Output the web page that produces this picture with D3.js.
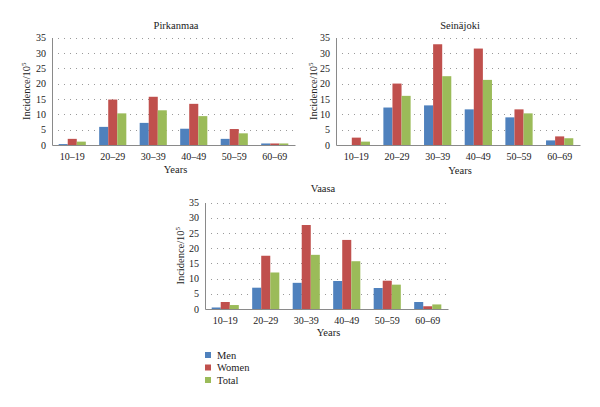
<!DOCTYPE html>
<html><head><meta charset="utf-8">
<script src="https://cdn.jsdelivr.net/npm/d3@7"></script>
<style>
body{margin:0;background:#fff;}
text{font-family:"Liberation Serif","DejaVu Serif",serif;fill:#222;}
</style></head>
<body><svg id="c" width="600" height="407"></svg>
<script>
const ageGroups = ["10–19","20–29","30–39","40–49","50–59","60–69"];
const seriesNames = ["Men","Women","Total"];
const yTicks = [0,5,10,15,20,25,30,35];

const pirkanmaaMen   = [0.3, 5.9, 7.2, 5.3, 2.0, 0.5];
const pirkanmaaWomen = [2.0, 14.8, 15.7, 13.4, 5.2, 0.5];
const pirkanmaaTotal = [1.1, 10.3, 11.3, 9.4, 3.8, 0.5];

const seinajokiMen   = [0.0, 12.2, 12.9, 11.6, 9.0, 1.5];
const seinajokiWomen = [2.4, 20.0, 32.8, 31.4, 11.6, 2.8];
const seinajokiTotal = [1.1, 16.0, 22.4, 21.2, 10.3, 2.2];

const vaasaMen   = [0.5, 7.0, 8.6, 9.2, 6.9, 2.3];
const vaasaWomen = [2.3, 17.5, 27.6, 22.7, 9.3, 0.9];
const vaasaTotal = [1.3, 12.0, 17.8, 15.7, 8.0, 1.5];

const colors = ["#4F81BD","#C0504D","#9BBB59"];

const panels = [
  {title:"Pirkanmaa", series:[pirkanmaaMen,pirkanmaaWomen,pirkanmaaTotal], x0:52, x1:295, y0:145, y1:37.5, titleX:176, titleY:29, yearsY:173, ylabX:30},
  {title:"Seinäjoki", series:[seinajokiMen,seinajokiWomen,seinajokiTotal], x0:336, x1:580, y0:145, y1:37.5, titleX:460, titleY:29, yearsY:174, ylabX:317},
  {title:"Vaasa", series:[vaasaMen,vaasaWomen,vaasaTotal], x0:205, x1:448, y0:309, y1:202.5, titleX:323, titleY:192, yearsY:336, ylabX:184}
];

const svg = d3.select("#c");

panels.forEach(p => {
  const g = svg.append("g");
  const x = d3.scaleBand().domain(ageGroups).range([p.x0, p.x1]).paddingInner(0.33).paddingOuter(0.165);
  const xs = d3.scaleBand().domain(seriesNames).range([0, x.bandwidth()]);
  const y = d3.scaleLinear().domain([0,35]).range([p.y0, p.y1]);

  // gridlines
  g.append("g").selectAll("line").data(yTicks.filter(t=>t>0)).join("line")
    .attr("x1", p.x0).attr("x2", p.x1)
    .attr("y1", d=>Math.round(y(d))+0.5).attr("y2", d=>Math.round(y(d))+0.5)
    .attr("stroke","#9a9a9a").attr("stroke-width",1).attr("stroke-dasharray","1,5");

  // bars
  p.series.forEach((vals, si) => {
    g.append("g").selectAll("rect").data(vals).join("rect")
      .attr("x", (d,i)=> x(ageGroups[i]) + xs(seriesNames[si]))
      .attr("width", xs.bandwidth())
      .attr("y", d=> y(d))
      .attr("height", d=> p.y0 - y(d))
      .attr("fill", colors[si]);
  });

  // y axis
  const ya = d3.axisLeft(y).tickValues(yTicks).tickSize(0).tickPadding(6);
  const yg = g.append("g").attr("transform",`translate(${p.x0},0)`).call(ya);
  yg.select(".domain").attr("stroke","#8a8a8a");
  yg.selectAll("text").attr("font-size","10px").attr("fill","#222").attr("font-family","Liberation Serif");

  // x axis
  const xa = d3.axisBottom(x).tickSize(0).tickPadding(8);
  const xg = g.append("g").attr("transform",`translate(0,${p.y0})`).call(xa);
  xg.select(".domain").attr("stroke","#8a8a8a");
  xg.selectAll("text").attr("font-size","10px").attr("fill","#222").attr("font-family","Liberation Serif");

  // title
  g.append("text").attr("x",p.titleX).attr("y",p.titleY).attr("text-anchor","middle").attr("font-size","10.5px").text(p.title);
  // x label
  g.append("text").attr("x",(p.x0+p.x1)/2+2).attr("y",p.yearsY).attr("text-anchor","middle").attr("font-size","10.5px").text("Years");
  // y label
  const yl = g.append("text").attr("transform",`translate(${p.ylabX},${(p.y0+p.y1)/2}) rotate(-90)`).attr("text-anchor","middle").attr("font-size","10.5px");
  yl.append("tspan").text("Incidence/10");
  yl.append("tspan").attr("font-size","7px").attr("dy","-4").text("5");
});

// legend
const lg = svg.append("g");
seriesNames.forEach((n,i)=>{
  lg.append("rect").attr("x",205).attr("y",352+i*12.5).attr("width",6).attr("height",6).attr("fill",colors[i]);
  lg.append("text").attr("x",217).attr("y",358.5+i*12.5).attr("font-size","10.5px").text(n);
});
</script></body></html>
